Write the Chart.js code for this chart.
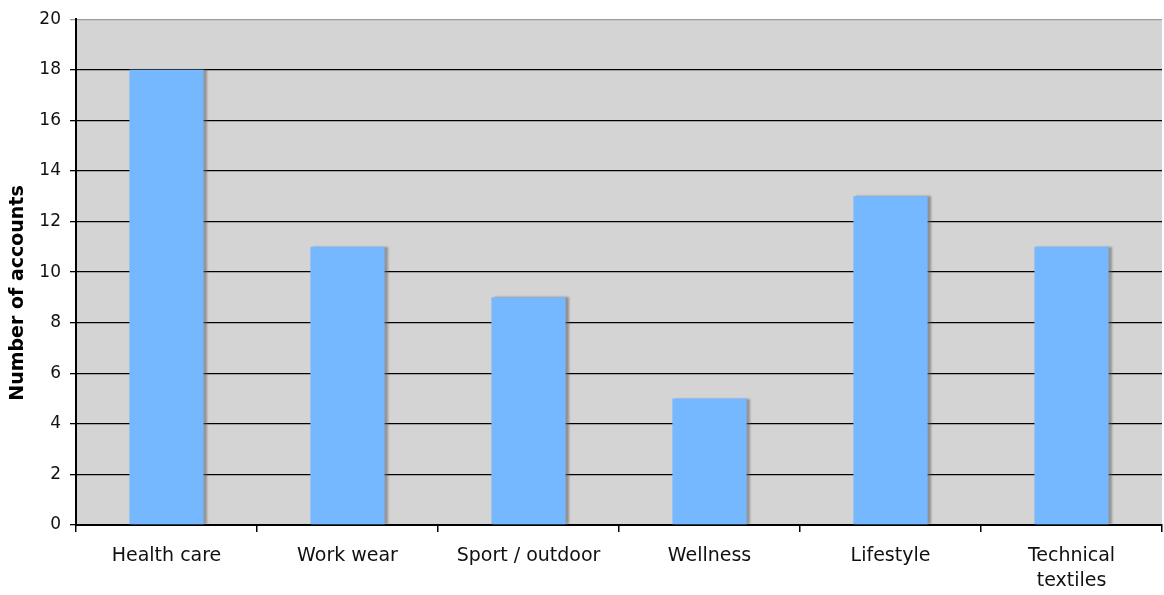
<!DOCTYPE html>
<html>
<head>
<meta charset="utf-8">
<script src="https://cdn.jsdelivr.net/npm/chart.js@4"></script>
<style>
  html, body { margin: 0; padding: 0; background: #fff; }
  #wrap { width: 1164px; height: 595px; }
</style>
</head>
<body>
<div id="wrap"><canvas id="chart" width="1164" height="595"></canvas></div>
<script>
const categories = ['Health care', 'Work wear', 'Sport / outdoor', 'Wellness', 'Lifestyle', ['Technical', 'textiles']];
const accounts = [18, 11, 9, 5, 13, 11];
const yTicks = [0, 2, 4, 6, 8, 10, 12, 14, 16, 18, 20];
const yTitle = 'Number of accounts';

// grey plot background
const plotBg = {
    id: 'plotBg',
    beforeDraw(chart) {
        const { ctx, chartArea: a } = chart;
        ctx.save();
        ctx.fillStyle = '#d4d4d4';
        ctx.fillRect(a.left, a.top, a.right - a.left, a.bottom - a.top);
        ctx.restore();
    }
};

// soft shadow to the right of the bars
const barShadow = {
    id: 'barShadow',
    beforeDatasetsDraw(chart) {
        const ctx = chart.ctx;
        ctx.save();
        ctx.shadowColor = 'rgba(90, 90, 90, 0.55)';
        ctx.shadowOffsetX = 3;
        ctx.shadowOffsetY = 0;
        ctx.shadowBlur = 2;
    },
    afterDatasetsDraw(chart) {
        chart.ctx.restore();
    }
};

// y title sits a bit below the plot centre in the original
const yTitlePlugin = {
    id: 'yTitlePlugin',
    afterDraw(chart) {
        const ctx = chart.ctx;
        ctx.save();
        ctx.translate(18, 293);
        ctx.rotate(-Math.PI / 2);
        ctx.font = 'bold 19px "DejaVu Sans"';
        ctx.fillStyle = '#000';
        ctx.textAlign = 'center';
        ctx.textBaseline = 'middle';
        ctx.fillText(yTitle, 0, 0);
        ctx.restore();
    }
};

const ctx = document.getElementById('chart').getContext('2d');
new Chart(ctx, {
    type: 'bar',
    data: {
        labels: categories,
        datasets: [{
            label: yTitle,
            data: accounts,
            backgroundColor: '#75b8ff',
            borderWidth: 0,
            categoryPercentage: 0.41,
            barPercentage: 1.0
        }]
    },
    options: {
        responsive: false,
        animation: false,
        layout: { padding: { top: 5, right: 2, bottom: 0, left: 0 } },
        plugins: {
            legend: { display: false },
            tooltip: { enabled: false }
        },
        scales: {
            x: {
                offset: true,
                afterFit(scale) { scale.height = 70; },
                border: { display: true, color: '#000', width: 2 },
                grid: {
                    offset: true,
                    drawOnChartArea: false,
                    drawTicks: true,
                    tickLength: 7,
                    color: '#000',
                    lineWidth: 1.5
                },
                ticks: {
                    color: '#111',
                    font: { family: 'DejaVu Sans', size: 19, lineHeight: 1.3 },
                    padding: 12,
                    maxRotation: 0,
                    autoSkip: false
                }
            },
            y: {
                min: 0,
                max: 20,
                afterBuildTicks(axis) {
                    axis.ticks = yTicks.map(v => ({ value: v }));
                },
                afterFit(scale) { scale.width = 76; },
                border: { display: true, color: '#000', width: 2 },
                grid: {
                    color: c => (c.tick && c.tick.value === 20) ? '#9a9a9a' : '#000',
                    lineWidth: 1.3,
                    tickLength: 6
                },
                ticks: {
                    color: '#111',
                    font: { family: 'DejaVu Sans', size: 17 },
                    padding: 9
                }
            }
        }
    },
    plugins: [plotBg, barShadow, yTitlePlugin]
});
</script>
</body>
</html>
